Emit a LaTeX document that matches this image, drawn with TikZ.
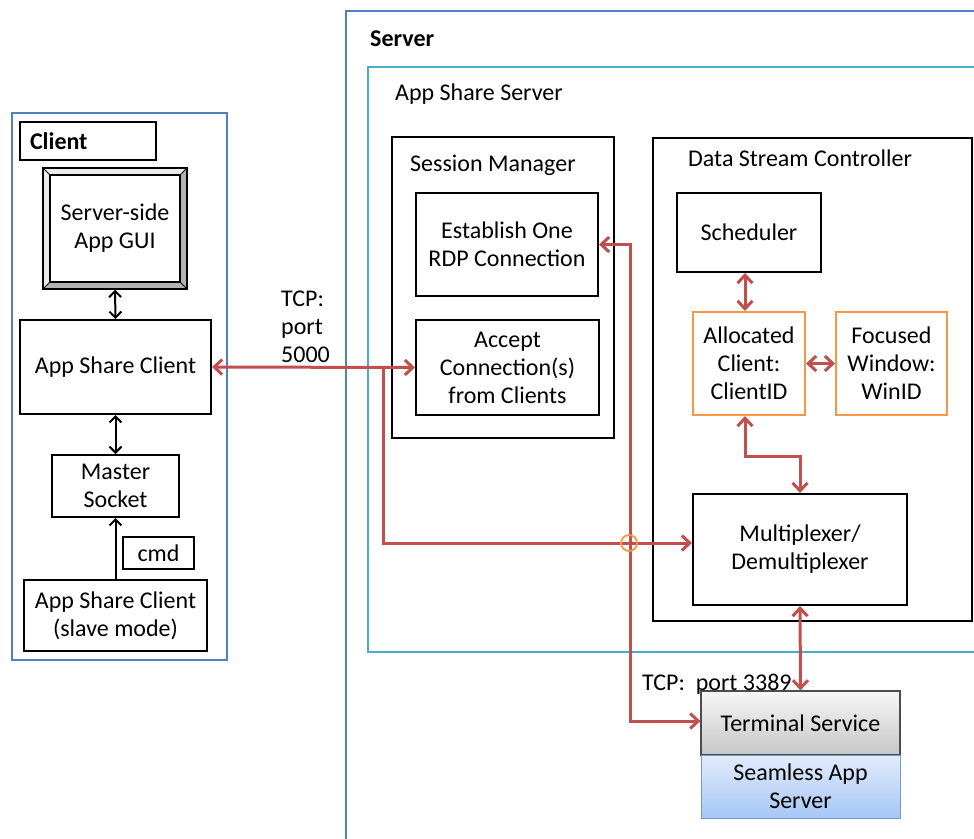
\documentclass[tikz,border=0pt]{standalone}
\usepackage{fontspec}
\setmainfont{Carlito}
\usetikzlibrary{arrows.meta,calc}
\definecolor{cred}{HTML}{C0504D}
\definecolor{cblue}{HTML}{4F81BD}
\definecolor{cteal}{HTML}{4BACC6}
\definecolor{corange}{HTML}{F79646}
\definecolor{sbtop}{HTML}{E2ECFB}
\definecolor{sbbot}{HTML}{A6C6F5}
\begin{document}
\begin{tikzpicture}[x=1pt,y=-1pt,
  font=\fontsize{24}{28}\selectfont,
  blk/.style={draw=black, line width=2pt, fill=white, align=center, inner sep=0pt},
  bluecont/.style={draw=cblue, line width=2pt, inner sep=0pt},
  tealcont/.style={draw=cteal, line width=2pt, inner sep=0pt},
  orangebox/.style={draw=corange, line width=2pt, fill=white, align=center, inner sep=0pt},
  lbl/.style={anchor=west, inner sep=0pt, align=left},
  redarr/.style={draw=cred, line width=3pt, {Straight Barb[length=8pt,width=15pt]}-{Straight Barb[length=8pt,width=15pt]}},
  redone/.style={draw=cred, line width=3pt, -{Straight Barb[length=8pt,width=15pt]}},
  blkarr/.style={draw=black, line width=2pt, {Straight Barb[length=6pt,width=12pt]}-{Straight Barb[length=6pt,width=12pt]}},
  blkone/.style={draw=black, line width=2pt, -{Straight Barb[length=6pt,width=12pt]}}
]
\clip (0,0) rectangle (974,838);
\fill[white] (0,0) rectangle (974,838);

% ---------------- Client side ----------------
\node[bluecont, minimum width=215, minimum height=547] (clientbox) at (119.5,386.5) {};
\node[blk, minimum width=136, minimum height=38, text width=116, inner xsep=10pt, align=left] (clientlbl) at (88,141) {\bfseries Client};

% bevelled frame for Server-side App GUI
\fill[gray!60] (43,168) rectangle (187,289);
\fill[gray!15] (43,168) -- (187,168) -- (180,175) -- (50,175) -- (50,282) -- (43,289) -- cycle;
\draw[black, line width=1pt] (43,168) -- (50,175) (187,168) -- (180,175) (43,289) -- (50,282) (187,289) -- (180,282);
\node[blk, line width=1.5pt, minimum width=130, minimum height=107] (gui) at (115,228.5) {Server-side\\App GUI};
\draw[black, line width=2pt] (43,168) rectangle (187,289);

\node[blk, minimum width=191, minimum height=94] (asc) at (115.5,367) {App Share Client};
\node[blk, minimum width=127, minimum height=62] (master) at (115.5,486) {Master\\Socket};
\node[blk, minimum width=71, minimum height=32] (cmd) at (158.5,553) {cmd};
\node[blk, minimum width=183, minimum height=71] (slave) at (115.5,615.5) {App Share Client\\(slave mode)};

\draw[blkarr] ([yshift=-7pt]gui.south) -- (asc.north);
\draw[blkarr] (asc.south) -- (master.north);
\draw[blkone] (slave.north) -- (master.south);

% ---------------- Server side ----------------
\node[bluecont, minimum width=644, minimum height=839] (serverbox) at (668,430.5) {};
\node[lbl] (serverlbl) at (370,39) {\bfseries Server};
\node[tealcont, minimum width=622, minimum height=585] (ass) at (679,359.5) {};
\node[lbl] (asslbl) at (395,94) {App Share Server};

\node[blk, minimum width=222, minimum height=301] (sm) at (503,287.5) {};
\node[lbl] (smlbl) at (410,165) {Session Manager};
\node[blk, minimum width=182, minimum height=103] (est) at (507,244.5) {Establish One\\RDP Connection};
\node[blk, minimum width=183, minimum height=95] (acc) at (507.5,367.5) {Accept\\Connection(s)\\from Clients};

\node[blk, minimum width=319, minimum height=483] (dsc) at (812.5,379.5) {};
\node[lbl] (dsclbl) at (688,158) {Data Stream Controller};
\node[blk, minimum width=144, minimum height=79] (sched) at (749,232.5) {Scheduler};
\node[orangebox, minimum width=112, minimum height=103] (alloc) at (749,363.5) {Allocated\\Client:\\ClientID};
\node[orangebox, minimum width=111, minimum height=103] (focus) at (891.5,363.5) {Focused\\Window:\\WinID};
\node[blk, minimum width=214, minimum height=111] (mux) at (800,549.5) {Multiplexer/\\Demultiplexer};

\node[draw=black!70, line width=1.2pt, top color=gray!6, bottom color=gray!45, minimum width=199, minimum height=64, inner sep=0pt] (term) at (800.5,723) {Terminal Service};
\node[draw=cblue!80, line width=1pt, top color=sbtop, bottom color=sbbot, minimum width=199, minimum height=63, inner sep=0pt, align=center] (seam) at (800.5,786.5) {Seamless App\\Server};

% labels
\node[anchor=north west, inner sep=0pt, align=left] (tcp5000) at (281,291) {TCP:\\port\\5000};
\node[lbl] (tcp3389) at (642,684) {TCP:\ \ port 3389};

% ---------------- connectors ----------------
\coordinate (br) at (383,367);
\draw[redarr] (asc.east) -- (acc.west);
\draw[redone] (br) |- ([yshift=6.5pt]mux.west);
\draw[redarr] (est.east) -- ++(31,0) |- ([yshift=2pt]term.west);
\node[draw=corange, line width=1.8pt, circle, minimum size=16pt, inner sep=0pt] (hop) at (629,543) {};

\draw[redarr] ([xshift=-4pt]sched.south) -- ([xshift=-4pt]alloc.north);
\draw[redarr] (alloc.east) -- (focus.west);
\draw[redarr] ([xshift=-4pt]alloc.south) -- ++(0,40) -| (mux.north);
\draw[redarr] (mux.south) -- (term.north);
\end{tikzpicture}
\end{document}
